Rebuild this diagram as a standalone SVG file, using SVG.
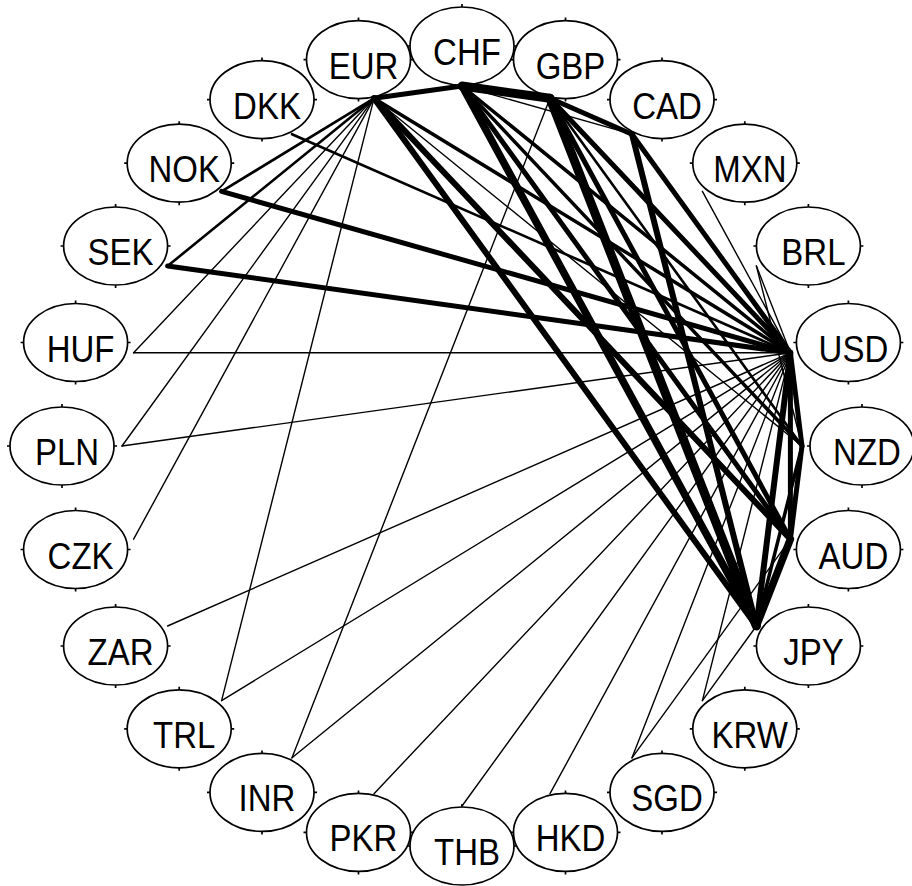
<svg xmlns="http://www.w3.org/2000/svg" width="912" height="886" viewBox="0 0 912 886">
<style>
  .bg{fill:#fff}
  #edges line{stroke:#000;stroke-linecap:round;fill:none}
  .t{stroke-width:1.4}
  .w2{stroke-width:2.6}
  .w3{stroke-width:3.5}
  .w4{stroke-width:5}
  .w5{stroke-width:6}
  .w6{stroke-width:7.5}
  .w7{stroke-width:9}
  .node ellipse{fill:none;stroke:#000;stroke-width:1.7}
  .node path{stroke:#000;stroke-width:1.7;fill:none}
  .node text{font-family:"Liberation Sans",Arial,sans-serif;font-size:33px;fill:#000;text-anchor:middle}
</style>
<rect class="bg" x="0" y="0" width="912" height="886"/>
<g id="edges">
  <line class="t" x1="374" y1="98.3" x2="133.6" y2="352.8"/>
  <line class="t" x1="374" y1="98.3" x2="122" y2="446"/>
  <line class="t" x1="374" y1="98.3" x2="133.6" y2="539.2"/>
  <line class="t" x1="374" y1="98.3" x2="221.6" y2="700.6"/>
  <line class="t" x1="133.6" y1="352.8" x2="790.4" y2="352.8"/>
  <line class="t" x1="122" y1="446" x2="790.4" y2="352.8"/>
  <line class="t" x1="167.6" y1="626" x2="790.4" y2="352.8"/>
  <line class="t" x1="221.6" y1="700.6" x2="790.4" y2="352.8"/>
  <line class="t" x1="292" y1="757.8" x2="790.4" y2="352.8"/>
  <line class="t" x1="292" y1="757.8" x2="550" y2="98.3"/>
  <line class="t" x1="374" y1="793.7" x2="790.4" y2="352.8"/>
  <line class="t" x1="462" y1="806" x2="790.4" y2="352.8"/>
  <line class="t" x1="550" y1="793.7" x2="790.4" y2="352.8"/>
  <line class="t" x1="632" y1="757.8" x2="790.4" y2="352.8"/>
  <line class="t" x1="632" y1="757.8" x2="790.4" y2="539.2"/>
  <line class="t" x1="702.4" y1="700.6" x2="790.4" y2="352.8"/>
  <line class="t" x1="702.4" y1="700.6" x2="756.4" y2="626"/>
  <line class="t" x1="702.4" y1="191.4" x2="790.4" y2="352.8"/>
  <line class="t" x1="756.4" y1="266" x2="790.4" y2="352.8"/>
  <line class="t" x1="756.4" y1="266" x2="802" y2="446"/>
  <line class="t" x1="462" y1="86" x2="632" y2="134.2"/>
  <line class="t" x1="374" y1="98.3" x2="802" y2="446"/>
  <line class="w2" x1="221.6" y1="191.4" x2="374" y2="98.3"/>
  <line class="w2" x1="167.6" y1="266" x2="374" y2="98.3"/>
  <line class="w2" x1="292" y1="134.2" x2="790.4" y2="352.8"/>
  <line class="w2" x1="550" y1="98.3" x2="802" y2="446"/>
  <line class="w4" x1="221.6" y1="191.4" x2="790.4" y2="352.8"/>
  <line class="w4" x1="167.6" y1="266" x2="790.4" y2="352.8"/>
  <line class="w3" x1="374" y1="98.3" x2="790.4" y2="352.8"/>
  <line class="w4" x1="374" y1="98.3" x2="462" y2="86"/>
  <line class="w5" x1="374" y1="98.3" x2="756.4" y2="626"/>
  <line class="w5" x1="374" y1="98.3" x2="790.4" y2="539.2"/>
  <line class="w7" x1="462" y1="86" x2="550" y2="98.3"/>
  <line class="w6" x1="462" y1="86" x2="756.4" y2="626"/>
  <line class="w4" x1="462" y1="86" x2="790.4" y2="539.2"/>
  <line class="w3" x1="462" y1="86" x2="790.4" y2="352.8"/>
  <line class="w3" x1="462" y1="86" x2="802" y2="446"/>
  <line class="w7" x1="550" y1="98.3" x2="756.4" y2="626"/>
  <line class="w4" x1="550" y1="98.3" x2="790.4" y2="539.2"/>
  <line class="w4" x1="550" y1="98.3" x2="790.4" y2="352.8"/>
  <line class="w4" x1="550" y1="98.3" x2="632" y2="134.2"/>
  <line class="w4" x1="632" y1="134.2" x2="790.4" y2="352.8"/>
  <line class="w5" x1="632" y1="134.2" x2="756.4" y2="626"/>
  <line class="w5" x1="790.4" y1="352.8" x2="756.4" y2="626"/>
  <line class="w4" x1="790.4" y1="352.8" x2="790.4" y2="539.2"/>
  <line class="w4" x1="790.4" y1="352.8" x2="802" y2="446"/>
  <line class="w4" x1="802" y1="446" x2="790.4" y2="539.2"/>
  <line class="w3" x1="802" y1="446" x2="756.4" y2="626"/>
  <line class="w6" x1="790.4" y1="539.2" x2="756.4" y2="626"/>
</g>
<g id="node-CHF" class="node"><ellipse cx="462" cy="46" rx="52" ry="39"/><path d="M462 7v-3M462 85v3M410 46h-3M514 46h3"/><text transform="translate(467 65) scale(1 1.12)">CHF</text></g>
<g id="node-GBP" class="node"><ellipse cx="565.5" cy="59.6" rx="52" ry="39"/><path d="M565.5 20.6v-3M565.5 98.6v3M513.5 59.6h-3M617.5 59.6h3"/><text transform="translate(570.5 78.6) scale(1 1.12)">GBP</text></g>
<g id="node-CAD" class="node"><ellipse cx="662" cy="99.6" rx="52" ry="39"/><path d="M662 60.6v-3M662 138.6v3M610 99.6h-3M714 99.6h3"/><text transform="translate(667 118.6) scale(1 1.12)">CAD</text></g>
<g id="node-MXN" class="node"><ellipse cx="744.8" cy="163.2" rx="52" ry="39"/><path d="M744.8 124.2v-3M744.8 202.2v3M692.8 163.2h-3M796.8 163.2h3"/><text transform="translate(749.8 182.2) scale(1 1.12)">MXN</text></g>
<g id="node-BRL" class="node"><ellipse cx="808.4" cy="246" rx="52" ry="39"/><path d="M808.4 207v-3M808.4 285v3M756.4 246h-3M860.4 246h3"/><text transform="translate(813.4 265) scale(1 1.12)">BRL</text></g>
<g id="node-USD" class="node"><ellipse cx="848.4" cy="342.5" rx="52" ry="39"/><path d="M848.4 303.5v-3M848.4 381.5v3M796.4 342.5h-3M900.4 342.5h3"/><text transform="translate(853.4 361.5) scale(1 1.12)">USD</text></g>
<g id="node-NZD" class="node"><ellipse cx="862" cy="446" rx="52" ry="39"/><path d="M862 407v-3M862 485v3M810 446h-3"/><text transform="translate(867 465) scale(1 1.12)">NZD</text></g>
<g id="node-AUD" class="node"><ellipse cx="848.4" cy="549.5" rx="52" ry="39"/><path d="M848.4 510.5v-3M848.4 588.5v3M796.4 549.5h-3M900.4 549.5h3"/><text transform="translate(853.4 568.5) scale(1 1.12)">AUD</text></g>
<g id="node-JPY" class="node"><ellipse cx="808.4" cy="646" rx="52" ry="39"/><path d="M808.4 607v-3M808.4 685v3M756.4 646h-3M860.4 646h3"/><text transform="translate(813.4 665) scale(1 1.12)">JPY</text></g>
<g id="node-KRW" class="node"><ellipse cx="744.8" cy="728.8" rx="52" ry="39"/><path d="M744.8 689.8v-3M744.8 767.8v3M692.8 728.8h-3M796.8 728.8h3"/><text transform="translate(749.8 747.8) scale(1 1.12)">KRW</text></g>
<g id="node-SGD" class="node"><ellipse cx="662" cy="792.4" rx="52" ry="39"/><path d="M662 753.4v-3M662 831.4v3M610 792.4h-3M714 792.4h3"/><text transform="translate(667 811.4) scale(1 1.12)">SGD</text></g>
<g id="node-HKD" class="node"><ellipse cx="565.5" cy="832.4" rx="52" ry="39"/><path d="M565.5 793.4v-3M565.5 871.4v3M513.5 832.4h-3M617.5 832.4h3"/><text transform="translate(570.5 851.4) scale(1 1.12)">HKD</text></g>
<g id="node-THB" class="node"><ellipse cx="462" cy="846" rx="52" ry="39"/><path d="M462 807v-3M410 846h-3M514 846h3"/><text transform="translate(467 865) scale(1 1.12)">THB</text></g>
<g id="node-PKR" class="node"><ellipse cx="358.5" cy="832.4" rx="52" ry="39"/><path d="M358.5 793.4v-3M358.5 871.4v3M306.5 832.4h-3M410.5 832.4h3"/><text transform="translate(363.5 851.4) scale(1 1.12)">PKR</text></g>
<g id="node-INR" class="node"><ellipse cx="262" cy="792.4" rx="52" ry="39"/><path d="M262 753.4v-3M262 831.4v3M210 792.4h-3M314 792.4h3"/><text transform="translate(267 811.4) scale(1 1.12)">INR</text></g>
<g id="node-TRL" class="node"><ellipse cx="179.2" cy="728.8" rx="52" ry="39"/><path d="M179.2 689.8v-3M179.2 767.8v3M127.2 728.8h-3M231.2 728.8h3"/><text transform="translate(184.2 747.8) scale(1 1.12)">TRL</text></g>
<g id="node-ZAR" class="node"><ellipse cx="115.6" cy="646" rx="52" ry="39"/><path d="M115.6 607v-3M115.6 685v3M63.6 646h-3M167.6 646h3"/><text transform="translate(120.6 665) scale(1 1.12)">ZAR</text></g>
<g id="node-CZK" class="node"><ellipse cx="75.6" cy="549.5" rx="52" ry="39"/><path d="M75.6 510.5v-3M75.6 588.5v3M23.6 549.5h-3M127.6 549.5h3"/><text transform="translate(80.6 568.5) scale(1 1.12)">CZK</text></g>
<g id="node-PLN" class="node"><ellipse cx="62" cy="446" rx="52" ry="39"/><path d="M62 407v-3M62 485v3M10 446h-3M114 446h3"/><text transform="translate(67 465) scale(1 1.12)">PLN</text></g>
<g id="node-HUF" class="node"><ellipse cx="75.6" cy="342.5" rx="52" ry="39"/><path d="M75.6 303.5v-3M75.6 381.5v3M23.6 342.5h-3M127.6 342.5h3"/><text transform="translate(80.6 361.5) scale(1 1.12)">HUF</text></g>
<g id="node-SEK" class="node"><ellipse cx="115.6" cy="246" rx="52" ry="39"/><path d="M115.6 207v-3M115.6 285v3M63.6 246h-3M167.6 246h3"/><text transform="translate(120.6 265) scale(1 1.12)">SEK</text></g>
<g id="node-NOK" class="node"><ellipse cx="179.2" cy="163.2" rx="52" ry="39"/><path d="M179.2 124.2v-3M179.2 202.2v3M127.2 163.2h-3M231.2 163.2h3"/><text transform="translate(184.2 182.2) scale(1 1.12)">NOK</text></g>
<g id="node-DKK" class="node"><ellipse cx="262" cy="99.6" rx="52" ry="39"/><path d="M262 60.6v-3M262 138.6v3M210 99.6h-3M314 99.6h3"/><text transform="translate(267 118.6) scale(1 1.12)">DKK</text></g>
<g id="node-EUR" class="node"><ellipse cx="358.5" cy="59.6" rx="52" ry="39"/><path d="M358.5 20.6v-3M358.5 98.6v3M306.5 59.6h-3M410.5 59.6h3"/><text transform="translate(363.5 78.6) scale(1 1.12)">EUR</text></g>
</svg>
